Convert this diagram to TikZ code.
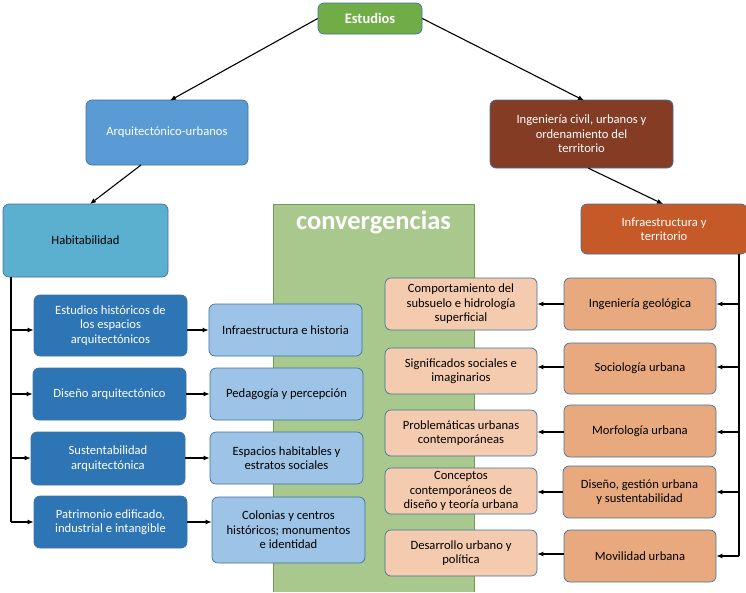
\documentclass[tikz,border=0pt]{standalone}
\usepackage{fontspec}
\setmainfont{Carlito}
\usetikzlibrary{arrows.meta}
\definecolor{bordc}{HTML}{41719C}
\definecolor{cgreen}{HTML}{70AD47}
\definecolor{carq}{HTML}{5B9BD5}
\definecolor{cing}{HTML}{843C24}
\definecolor{chab}{HTML}{5BB0CF}
\definecolor{cinfra}{HTML}{C55A28}
\definecolor{cdark}{HTML}{2E75B6}
\definecolor{clight}{HTML}{9DC3E6}
\definecolor{cpeach}{HTML}{F4CBAE}
\definecolor{corange}{HTML}{E8A97E}
\definecolor{cpanel}{HTML}{A8C88E}
\definecolor{cpanelb}{HTML}{6E9E4E}
\tikzset{
  box/.style={rounded corners=6pt, draw=bordc, line width=0.7pt, align=center, inner sep=2pt, font=\fontsize{12.6}{14.5}\selectfont},
  wbox/.style={box, text=white},
  conn/.style={line width=1.1pt, -{Latex[length=6pt,width=5pt]}},
  trunk/.style={line width=1.1pt}
}
\begin{document}
\begin{tikzpicture}[x=1pt,y=-1pt]
\useasboundingbox (0,0) rectangle (746,592);
% convergencias panel
\fill[cpanel] (273,204) rectangle (474,592);
\draw[cpanelb, line width=1pt] (273,592) -- (273,204) -- (474,204) -- (474,592);
\node[text=white, font=\fontsize{26.5}{30}\selectfont\bfseries] (conv) at (373.5,222) {convergencias};

% top level
\node[wbox, fill=cgreen, minimum width=104pt, minimum height=31pt, font=\fontsize{14.5}{16}\selectfont\bfseries] (est) at (370,18.5) {Estudios};
\node[wbox, fill=carq, minimum width=162pt, minimum height=65pt] (arq) at (167,132.5) {Arquitectónico-urbanos};
\node[wbox, fill=cing, minimum width=183pt, minimum height=68pt] (ing) at (581.5,134) {Ingeniería civil, urbanos y\\ordenamiento del\\territorio};
\node[box, fill=chab, minimum width=165pt, minimum height=73pt] (hab) at (85.5,240.5) {Habitabilidad};
\node[wbox, fill=cinfra, minimum width=166pt, minimum height=50pt] (inf) at (664,229) {Infraestructura y\\territorio};

\draw[conn] (est.west) -- (170,100.5) coordinate (arqin);
\draw[conn] (est.east) -- (584,100.5);
\draw[conn] (141,165) -- (90,204);
\draw[conn] (588,168) -- (663,204);

% left dark blue
\node[wbox, fill=cdark, minimum width=153pt, minimum height=61pt] (d1) at (110.5,325.5) {Estudios históricos de\\los espacios\\arquitectónicos};
\node[wbox, fill=cdark, minimum width=153pt, minimum height=52pt] (d2) at (109.5,394) {Diseño arquitectónico};
\node[wbox, fill=cdark, minimum width=154pt, minimum height=53pt] (d3) at (108,458.5) {Sustentabilidad\\arquitectónica};
\node[wbox, fill=cdark, minimum width=153pt, minimum height=52pt] (d4) at (110.5,522) {Patrimonio edificado,\\industrial e intangible};

% light blue
\node[box, fill=clight, minimum width=153pt, minimum height=52pt] (l1) at (285.5,330) {Infraestructura e historia};
\node[box, fill=clight, minimum width=153pt, minimum height=52pt] (l2) at (286.5,394) {Pedagogía y percepción};
\node[box, fill=clight, minimum width=153pt, minimum height=52pt] (l3) at (286.5,458) {Espacios habitables y\\estratos sociales};
\node[box, fill=clight, minimum width=153pt, minimum height=66pt] (l4) at (288.5,530) {Colonias y centros\\históricos; monumentos\\e identidad};

% left trunk
\coordinate (lt0) at (11,277);
\draw[trunk] (lt0) -- (11,522);
\draw[conn] (11,330) -- (d1.west |- 0,330);
\draw[conn] (11,394) -- (d2.west);
\draw[conn] (11,458) -- (d3.west |- 0,458);
\draw[conn] (11,522) -- (d4.west);

\draw[conn] (d1.east |- 0,330) -- (l1.west);
\draw[conn] (d2.east) -- (l2.west);
\draw[conn] (d3.east |- 0,458) -- (l3.west);
\draw[conn] (d4.east |- 0,522) -- (l4.west |- 0,522);

% right orange
\node[box, fill=corange, minimum width=152pt, minimum height=52pt] (o1) at (640,304) {Ingeniería geológica};
\node[box, fill=corange, minimum width=152pt, minimum height=51pt] (o2) at (640,368.5) {Sociología urbana};
\node[box, fill=corange, minimum width=152pt, minimum height=52pt] (o3) at (640,431) {Morfología urbana};
\node[box, fill=corange, minimum width=153pt, minimum height=52pt] (o4) at (639.5,492) {Diseño, gestión urbana\\y sustentabilidad};
\node[box, fill=corange, minimum width=152pt, minimum height=52pt] (o5) at (640,556) {Movilidad urbana};

% peach
\node[box, fill=cpeach, minimum width=152pt, minimum height=52pt] (p1) at (461,304) {Comportamiento del\\subsuelo e hidrología\\superficial};
\node[box, fill=cpeach, minimum width=152pt, minimum height=46pt] (p2) at (461,371) {Significados sociales e\\imaginarios};
\node[box, fill=cpeach, minimum width=152pt, minimum height=46pt] (p3) at (461,433) {Problemáticas urbanas\\contemporáneas};
\node[box, fill=cpeach, minimum width=152pt, minimum height=46pt] (p4) at (461,491) {Conceptos\\contemporáneos de\\diseño y teoría urbana};
\node[box, fill=cpeach, minimum width=152pt, minimum height=46pt] (p5) at (461,553) {Desarrollo urbano y\\política};

% right trunk
\draw[trunk] (739,254) -- (739,556);
\draw[conn] (739,304) -- (o1.east);
\draw[conn] (739,367) -- (o2.east |- 0,367);
\draw[conn] (739,432) -- (o3.east |- 0,432);
\draw[conn] (739,492) -- (o4.east);
\draw[conn] (739,556) -- (o5.east);

\draw[conn] (o1.west) -- (p1.east);
\draw[conn] (o2.west |- 0,367) -- (p2.east |- 0,367);
\draw[conn] (o3.west |- 0,432) -- (p3.east |- 0,432);
\draw[conn] (o4.west) -- (p4.east |- 0,492);
\draw[conn] (o5.west |- 0,554) -- (p5.east |- 0,554);
\end{tikzpicture}
\end{document}
